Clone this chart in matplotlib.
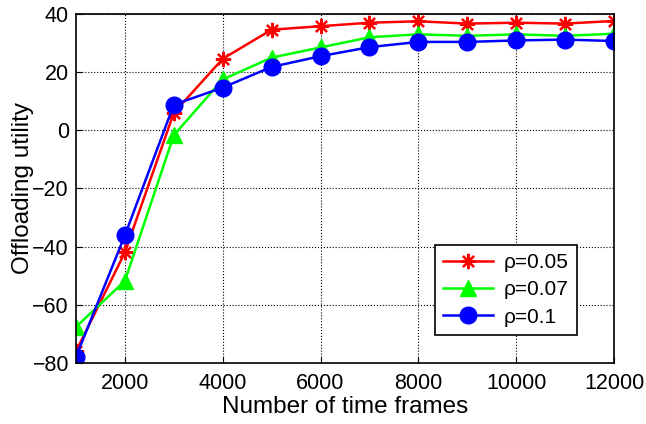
import matplotlib
matplotlib.use('Agg')
from matplotlib import pyplot as plt

# data
frames = [1000, 2000, 3000, 4000, 5000, 6000, 7000, 8000, 9000, 10000, 11000, 12000]
util_005 = [-76, -42, 6, 24.6, 34.6, 35.8, 37, 37.5, 36.7, 37, 36.7, 37.6]
util_007 = [-67.6, -51.8, -1.7, 17.5, 25, 28.5, 32, 33, 32.5, 33, 32.5, 33.2]
util_01 = [-77.9, -36.1, 8.8, 14.7, 21.8, 25.5, 28.6, 30.4, 30.4, 30.9, 31.2, 30.7]
labels = ['\u03c1=0.05', '\u03c1=0.07', '\u03c1=0.1']

plt.rcParams['font.family'] = ['Liberation Sans', 'DejaVu Sans']

fig = plt.figure(figsize=(6.46, 4.24), dpi=100)
ax = fig.add_axes([0.1176, 0.1439, 0.8329, 0.8231])

ax.plot(frames, util_005, color='#ff0000', marker=(8, 2, 0), markersize=11,
        markeredgewidth=1.6, lw=1.8, label=labels[0])
ax.plot(frames, util_007, color='#00ff00', marker='^', markersize=11, lw=1.8, label=labels[1])
ax.plot(frames, util_01, color='#0000ff', marker='o', markersize=12, lw=1.8, label=labels[2])

ax.set_xlim(1000, 12000)
ax.set_ylim(-80, 40)
ax.set_xticks([2000, 4000, 6000, 8000, 10000, 12000])
ax.set_yticks(range(-80, 41, 20))
ax.tick_params(labelsize=15.5, direction='in', length=4)
ax.tick_params(axis='x', pad=7)
ax.tick_params(axis='y', pad=5)
ax.grid(True, color='black', linestyle=':', linewidth=0.8)
for s in ax.spines.values():
    s.set_linewidth(1.2)

ax.set_xlabel('Number of time frames', fontsize=17.5, labelpad=2)
ax.set_ylabel('Offloading utility', fontsize=17.5, labelpad=-1)

leg = ax.legend(loc='lower right', bbox_to_anchor=(0.931, 0.08), borderaxespad=0,
                fontsize=15, fancybox=False, framealpha=1, edgecolor='black',
                handlelength=2.4, borderpad=0.4, labelspacing=0.4,
                handletextpad=0.5)
leg.get_frame().set_linewidth(1.2)

fig.savefig('out.png', dpi=100)
